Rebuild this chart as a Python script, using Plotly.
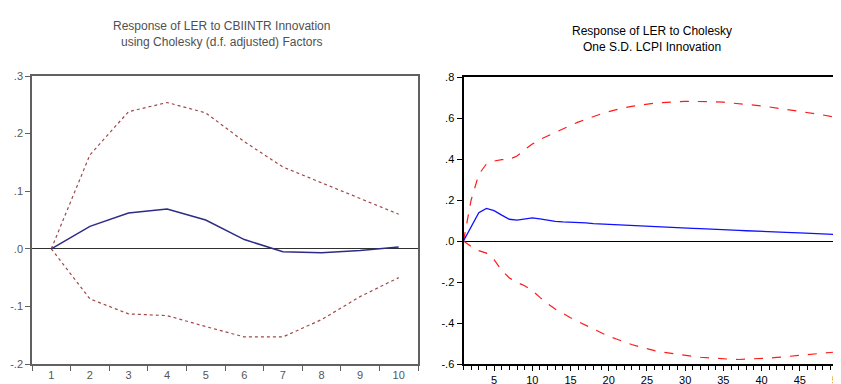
import plotly.graph_objects as go

# Left panel: Response of LER to CBIINTR
left_periods = [str(i) for i in range(1, 11)]
left_resp = [0.0, 0.039, 0.062, 0.069, 0.050, 0.016, -0.005, -0.007, -0.003, 0.003]
left_upper = [0.0, 0.163, 0.238, 0.254, 0.236, 0.186, 0.142, 0.115, 0.088, 0.060]
left_lower = [0.0, -0.087, -0.113, -0.116, -0.135, -0.153, -0.153, -0.123, -0.083, -0.050]
left_yticks = [-0.2, -0.1, 0.0, 0.1, 0.2, 0.3]
left_ylabels = ["-.2", "-.1", ".0", ".1", ".2", ".3"]

# Right panel: Response of LER to LCPI
right_periods = list(range(1, 51))
right_resp = [0.0, 0.07, 0.138, 0.159, 0.148, 0.126, 0.106, 0.102, 0.109, 0.113,
              0.108, 0.101, 0.096, 0.093, 0.092, 0.090, 0.088, 0.085, 0.083, 0.081,
              0.079, 0.077, 0.076, 0.074, 0.073, 0.071, 0.069, 0.067, 0.065, 0.063,
              0.062, 0.060, 0.059, 0.057, 0.055, 0.054, 0.052, 0.050, 0.048, 0.047,
              0.045, 0.044, 0.042, 0.041, 0.040, 0.038, 0.036, 0.035, 0.033, 0.031]
right_upper = [0.0, 0.20, 0.325, 0.376, 0.390, 0.397, 0.398, 0.415, 0.445, 0.473,
               0.495, 0.513, 0.530, 0.547, 0.564, 0.580, 0.594, 0.607, 0.620, 0.631,
               0.641, 0.650, 0.657, 0.663, 0.668, 0.672, 0.675, 0.678, 0.680, 0.681,
               0.681, 0.681, 0.680, 0.679, 0.677, 0.674, 0.671, 0.667, 0.663, 0.659,
               0.654, 0.649, 0.644, 0.638, 0.633, 0.627, 0.621, 0.615, 0.608, 0.601]
right_lower = [0.0, -0.026, -0.047, -0.059, -0.091, -0.143, -0.180, -0.202, -0.218, -0.242,
               -0.275, -0.306, -0.332, -0.354, -0.374, -0.393, -0.411, -0.430, -0.448, -0.465,
               -0.478, -0.492, -0.505, -0.516, -0.527, -0.535, -0.542, -0.548, -0.554, -0.559,
               -0.563, -0.567, -0.570, -0.573, -0.575, -0.577, -0.578, -0.577, -0.575, -0.573,
               -0.571, -0.568, -0.565, -0.562, -0.559, -0.556, -0.552, -0.548, -0.544, -0.540]
right_yticks = [-0.6, -0.4, -0.2, 0.0, 0.2, 0.4, 0.6, 0.8]
right_ylabels = ["-.6", "-.4", "-.2", ".0", ".2", ".4", ".6", ".8"]
right_xticks = [5, 10, 15, 20, 25, 30, 35, 40, 45, 50]

# page body has an 8px margin: figure occupies page pixels 8..841 x 8..384
OFF = 8
W, H = 841 - OFF, 384 - OFF


def px(p):
    return (p - OFF) / W


def py(p):
    return 1 - (p - OFF) / H


fig = go.Figure()

band_left = dict(color="#a04848", width=1.2, dash="dot")
fig.add_trace(go.Scatter(x=left_periods, y=left_upper, mode="lines", line=band_left,
                         xaxis="x", yaxis="y", showlegend=False))
fig.add_trace(go.Scatter(x=left_periods, y=left_lower, mode="lines", line=band_left,
                         xaxis="x", yaxis="y", showlegend=False))
fig.add_trace(go.Scatter(x=left_periods, y=left_resp, mode="lines",
                         line=dict(color="#2c2c86", width=1.5),
                         xaxis="x", yaxis="y", showlegend=False))

band_right = dict(color="#ff1a1a", width=1.2, dash="dash")
fig.add_trace(go.Scatter(x=right_periods, y=right_upper, mode="lines", line=band_right,
                         xaxis="x2", yaxis="y2", showlegend=False))
fig.add_trace(go.Scatter(x=right_periods, y=right_lower, mode="lines", line=band_right,
                         xaxis="x2", yaxis="y2", showlegend=False))
fig.add_trace(go.Scatter(x=right_periods, y=right_resp, mode="lines",
                         line=dict(color="#1010ff", width=1.3),
                         xaxis="x2", yaxis="y2", showlegend=False))

left_font = dict(family="Liberation Sans, Arial", size=11, color="#555555")
right_font = dict(family="Liberation Sans, Arial", size=11, color="#000000")

fig.update_layout(
    width=W, height=H,
    margin=dict(l=0, r=0, t=0, b=0, autoexpand=False),
    paper_bgcolor="white", plot_bgcolor="white",
    xaxis=dict(domain=[px(32), px(418)], anchor="y", type="category",
               categoryorder="array", categoryarray=left_periods,
               range=[-0.5, 9.5], tickson="boundaries", ticks="outside", ticklen=5,
               tickcolor="#606060", showgrid=False, zeroline=False, automargin=False,
               showline=True, linecolor="#606060", linewidth=1.5, mirror=True,
               tickfont=left_font),
    yaxis=dict(domain=[py(364), py(76)], anchor="x", range=[-0.2, 0.3],
               tickvals=left_yticks, ticktext=left_ylabels, ticks="outside", ticklen=5,
               tickcolor="#606060", showgrid=False, zeroline=True, automargin=False,
               zerolinecolor="#303030", zerolinewidth=1,
               showline=True, linecolor="#606060", linewidth=1.5, mirror=True,
               tickfont=left_font),
    xaxis2=dict(domain=[px(463.5), px(838)], anchor="y2", range=[1, 50],
                tickvals=right_xticks, ticks="outside", ticklen=5, tickcolor="#000",
                minor=dict(dtick=1, tick0=0, ticks="outside", ticklen=4, tickcolor="#000"),
                showgrid=False, zeroline=False, automargin=False,
                ticklabeloverflow="allow",
                showline=True, linecolor="#000", linewidth=2, mirror=True,
                tickfont=right_font),
    yaxis2=dict(domain=[py(364), py(77)], anchor="x2", range=[-0.6, 0.8],
                tickvals=right_yticks, ticktext=right_ylabels, ticks="outside", ticklen=5,
                tickcolor="#000", showgrid=False, zeroline=True, automargin=False,
                zerolinecolor="#000", zerolinewidth=1.2,
                showline=True, linecolor="#000", linewidth=2, mirror=True,
                tickfont=right_font),
    annotations=[
        dict(text="Response of LER to CBIINTR Innovation<br>using Cholesky (d.f. adjusted) Factors",
             x=px(221), y=py(17), xref="paper", yref="paper",
             xanchor="center", yanchor="top", showarrow=False,
             font=dict(family="Liberation Sans, Arial", size=12, color="#505050")),
        dict(text="Response of LER to Cholesky<br>One S.D. LCPI Innovation",
             x=px(652), y=py(22), xref="paper", yref="paper",
             xanchor="center", yanchor="top", showarrow=False,
             font=dict(family="Liberation Sans, Arial", size=12, color="#000000")),
    ],
)

fig.write_html("out.html")
